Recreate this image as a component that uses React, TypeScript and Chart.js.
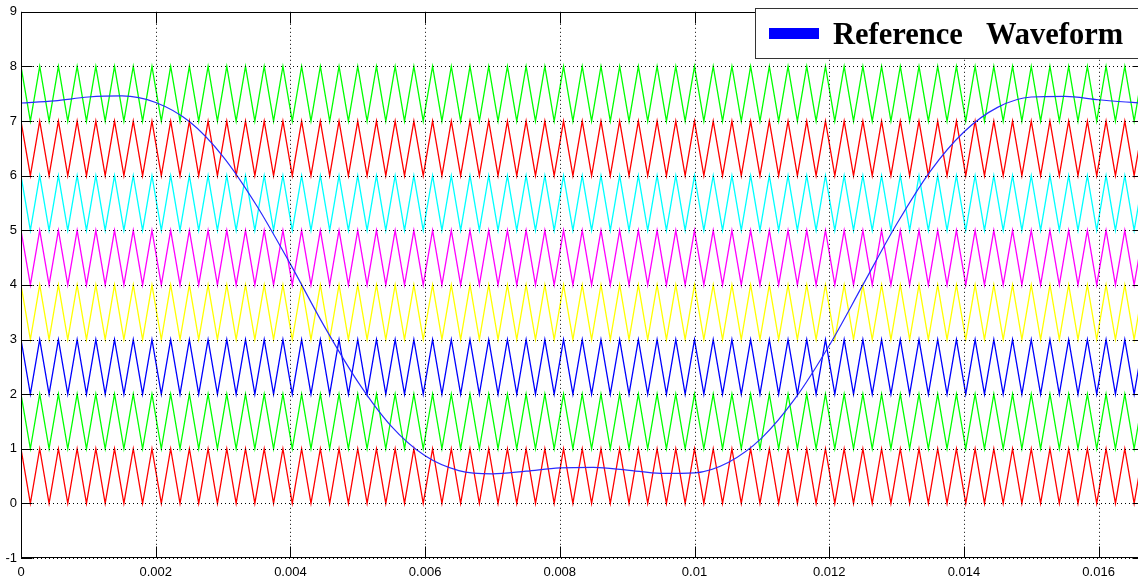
import { useEffect, useRef } from "react";
import { Chart, registerables } from "chart.js";

Chart.register(...registerables);

// ---- data ----
const timeWindow = 1 / 60; // one fundamental period (s)
const carrierCycles = 60; // triangle carrier periods in the window
const carrierBands = [0, 1, 2, 3, 4, 5, 6, 7]; // lower level of each carrier
const carrierColors = ["#ff0000", "#00ff00", "#0000ff", "#ffff00", "#ff00ff", "#00ffff", "#ff0000", "#00ff00"];

const refTimes = [
  0, 0.0005, 0.001, 0.0015, 0.002, 0.0025, 0.003, 0.0035, 0.004, 0.0045, 0.005, 0.0055,
  0.006, 0.0065, 0.007, 0.0075, 0.008, 0.0085, 0.009, 0.0095, 0.01, 0.0105, 0.011, 0.0115,
  0.012, 0.0125, 0.013, 0.0135, 0.014, 0.0145, 0.015, 0.0155, 0.016, 0.0165, 0.016667,
];
const refValues = [
  7.33, 7.37, 7.44, 7.46, 7.34, 6.99, 6.35, 5.45, 4.38, 3.25, 2.23, 1.41,
  0.87, 0.6, 0.54, 0.59, 0.65, 0.66, 0.61, 0.55, 0.56, 0.75, 1.2, 1.93,
  2.89, 4.0, 5.11, 6.08, 6.8, 7.25, 7.44, 7.45, 7.39, 7.34, 7.33,
];

const xTicks = [0, 0.002, 0.004, 0.006, 0.008, 0.01, 0.012, 0.014, 0.016];
const yTicks = [-1, 0, 1, 2, 3, 4, 5, 6, 7, 8, 9];
const legendWords = ["Reference", "Waveform"];

function carrierPoints(band: number) {
  const pts: { x: number; y: number }[] = [];
  const n = carrierCycles * 2;
  for (let k = 0; k <= n; k++) {
    pts.push({ x: (k * timeWindow) / n, y: band + (k % 2 === 0 ? 1 : 0) });
  }
  return pts;
}

const framePlugin = {
  id: "matlabFrame",
  afterDatasetsDraw(chart: any) {
    const { ctx, chartArea } = chart;
    const { left, right, top, bottom } = chartArea;
    const xs = chart.scales.x;
    const ys = chart.scales.y;
    ctx.save();
    // dotted grid
    ctx.strokeStyle = "#000";
    ctx.lineWidth = 1;
    ctx.setLineDash([1, 3]);
    ctx.beginPath();
    for (const v of yTicks) {
      const py = Math.round(ys.getPixelForValue(v)) + 0.5;
      ctx.moveTo(left, py);
      ctx.lineTo(right, py);
    }
    for (const v of xTicks) {
      const px = Math.round(xs.getPixelForValue(v)) + 0.5;
      ctx.moveTo(px, top);
      ctx.lineTo(px, bottom);
    }
    ctx.stroke();
    ctx.setLineDash([]);
    // frame
    ctx.strokeStyle = "#000";
    const L = Math.round(left) + 0.5;
    const R = Math.round(right) - 0.5;
    const T = Math.round(top) + 0.5;
    const B = Math.round(bottom) - 0.5;
    ctx.strokeRect(L, T, R - L, B - T);
    // inward ticks
    const tl = 11;
    ctx.beginPath();
    for (const v of yTicks) {
      const py = Math.round(ys.getPixelForValue(v)) + 0.5;
      ctx.moveTo(L, py);
      ctx.lineTo(L + tl, py);
      ctx.moveTo(R, py);
      ctx.lineTo(R - tl, py);
    }
    for (const v of xTicks) {
      const px = Math.round(xs.getPixelForValue(v)) + 0.5;
      ctx.moveTo(px, B);
      ctx.lineTo(px, B - tl);
      ctx.moveTo(px, T);
      ctx.lineTo(px, T + tl);
    }
    ctx.stroke();
    ctx.restore();
  },
  afterDraw(chart: any) {
    const { ctx } = chart;
    ctx.save();
    // legend box
    ctx.fillStyle = "#fff";
    ctx.fillRect(755, 8, 400, 50);
    ctx.strokeStyle = "#333";
    ctx.lineWidth = 1;
    ctx.strokeRect(755.5, 8.5, 400, 50);
    ctx.fillStyle = "#0000ff";
    ctx.fillRect(769, 28, 50, 11);
    ctx.fillStyle = "#000";
    ctx.font = "bold 30.5px 'Liberation Serif', 'Times New Roman', serif";
    ctx.textBaseline = "alphabetic";
    ctx.textAlign = "left";
    ctx.fillText(legendWords[0], 833, 44);
    ctx.fillText(legendWords[1], 986, 44);
    ctx.restore();
  },
};

export default function App() {
  const ref = useRef<HTMLCanvasElement | null>(null);
  useEffect(() => {
    if (!ref.current) return;
    const datasets: any[] = [
      {
        label: "Reference Waveform",
        data: refTimes.map((t, i) => ({ x: t, y: refValues[i] })),
        borderColor: "#2a2aff",
        borderWidth: 1.2,
        pointRadius: 0,
        cubicInterpolationMode: "monotone",
        order: 0,
      },
    ];
    carrierBands.forEach((b, i) => {
      datasets.push({
        label: "Carrier " + (i + 1),
        data: carrierPoints(b),
        borderColor: carrierColors[i],
        borderWidth: 1.3,
        pointRadius: 0,
        tension: 0,
        order: 1,
      });
    });
    const chart = new Chart(ref.current, {
      type: "line",
      data: { datasets },
      options: {
        animation: false,
        responsive: false,
        devicePixelRatio: 1,
        layout: { padding: { top: 8, right: 2.5, left: 0, bottom: 0 } },
        plugins: { legend: { display: false }, tooltip: { enabled: false } },
        scales: {
          x: {
            type: "linear",
            min: 0,
            max: timeWindow,
            grid: { display: false, drawTicks: false },
            border: { display: false },
            afterFit: (s: any) => {
              s.height = 23;
            },
            ticks: {
              stepSize: 0.002,
              includeBounds: false,
              autoSkip: false,
              maxRotation: 0,
              padding: 7,
              color: "#000",
              font: { family: "'Liberation Sans', Arial, sans-serif", size: 13 },
              callback: (v: any) => String(Number(Number(v).toFixed(4))),
            },
          },
          y: {
            type: "linear",
            min: -1,
            max: 9,
            grid: { display: false, drawTicks: false },
            border: { display: false },
            afterFit: (s: any) => {
              s.width = 21;
            },
            ticks: {
              stepSize: 1,
              padding: 4,
              color: "#000",
              font: { family: "'Liberation Sans', Arial, sans-serif", size: 13 },
            },
          },
        },
      },
      plugins: [framePlugin],
    });
    return () => chart.destroy();
  }, []);
  return (
    <div
      style={{
        position: "absolute",
        left: 0,
        top: 0,
        width: 1138,
        height: 581,
        overflow: "hidden",
        background: "#fff",
      }}
    >
      <canvas ref={ref} width={1146} height={581} style={{ width: 1146, height: 581, display: "block" }} />
    </div>
  );
}
